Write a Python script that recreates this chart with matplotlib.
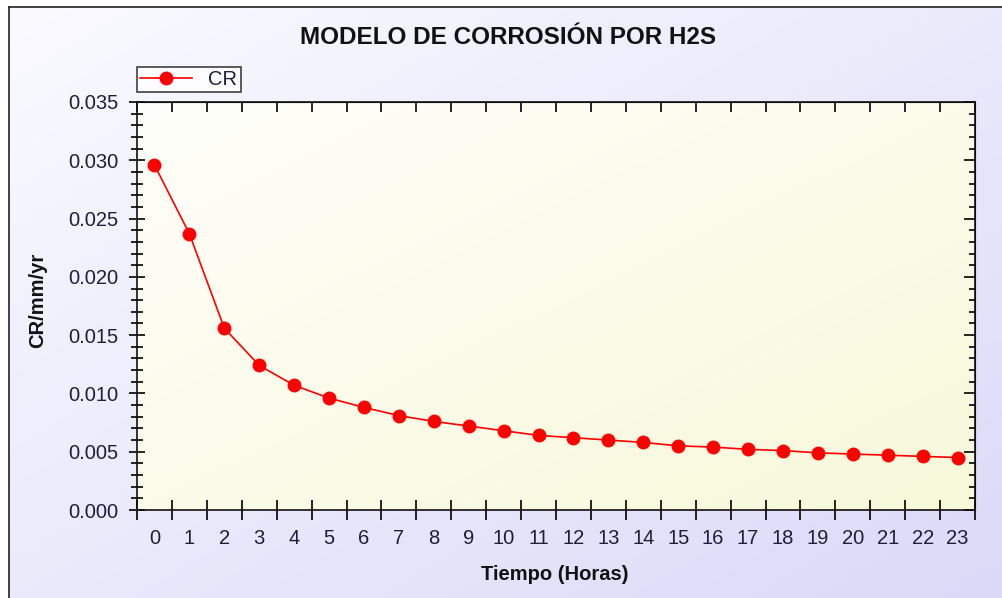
import numpy as np
import matplotlib.pyplot as plt
from matplotlib.lines import Line2D
from matplotlib.ticker import MultipleLocator, FixedLocator, NullFormatter

plt.rcParams['font.family'] = ['Liberation Sans', 'DejaVu Sans']

# Corrosion rate per hour
horas = list(range(24))
cr = [0.0296, 0.0237, 0.0156, 0.0124, 0.0107, 0.0096, 0.0088, 0.0081,
      0.0076, 0.0072, 0.0068, 0.0064, 0.0062, 0.0060, 0.0058, 0.0055,
      0.0054, 0.0052, 0.0051, 0.0049, 0.0048, 0.0047, 0.0046, 0.0045]

titulo = 'MODELO DE CORROSIÓN POR H2S'
xlabel = 'Tiempo (Horas)'
ylabel = 'CR/mm/yr'

W, H = 1002, 598
fig = plt.figure(figsize=(W / 100, H / 100), dpi=100, facecolor='white')


def gradiente(c0, c1, n=200):
    # diagonal blend: top-left c0 -> bottom-right c1
    xx, yy = np.meshgrid(np.linspace(0, 1, n), np.linspace(0, 1, n))
    t = (xx + yy) / 2
    c0 = np.array(c0) / 255.0
    c1 = np.array(c1) / 255.0
    return c0[None, None, :] * (1 - t[..., None]) + c1[None, None, :] * t[..., None]


# panel background with its frame lines
bg = fig.add_axes([9 / W, 0, 1 - 9 / W, (H - 7) / H], zorder=-2)
bg.imshow(gradiente((250, 250, 255), (218, 218, 248)), aspect='auto', extent=[0, 1, 0, 1])
bg.set_axis_off()
fig.add_artist(Line2D([9 / W, 9 / W], [0, (H - 7) / H], color='#222222', lw=1.2))
fig.add_artist(Line2D([9 / W, 1], [(H - 7) / H, (H - 7) / H], color='#222222', lw=1.2))

ax = fig.add_axes([137 / W, 88 / H, 838 / W, 408 / H])
ax.set_xlim(-0.5, 23.5)
ax.set_ylim(0, 0.035)
ax.imshow(gradiente((254, 254, 250), (248, 248, 218)), aspect='auto',
          extent=[-0.5, 23.5, 0, 0.035], zorder=0)
ax.set_facecolor('none')

ax.plot(horas, cr, color='#ff0000', lw=1.2, marker='o', ms=9,
        markeredgecolor='#ff0000', label='CR', zorder=3)

txt = '#1e1e3c'
# x: labels at the centres, ticks on the category boundaries
ax.xaxis.set_major_locator(FixedLocator(horas))
ax.set_xticklabels([str(h) for h in horas])
ax.xaxis.set_minor_locator(FixedLocator(np.arange(-0.5, 24, 1)))
ax.tick_params(axis='x', which='major', length=0, pad=14, labelsize=14.5, labelcolor=txt)
ax.tick_params(axis='x', which='minor', direction='inout', length=15, width=1.2)

ax.yaxis.set_major_locator(MultipleLocator(0.005))
ax.yaxis.set_minor_locator(MultipleLocator(0.001))
ax.yaxis.set_major_formatter(plt.FuncFormatter(lambda v, p: f'{v:.3f}'))
ax.tick_params(axis='y', which='major', direction='inout', length=11, width=1.2,
               pad=8, labelsize=14.5, labelcolor=txt)
ax.tick_params(axis='y', which='minor', direction='inout', length=8, width=1.2)

for s in ax.spines.values():
    s.set_linewidth(1.2)
    s.set_color('#111111')

# inward ticks on the top and right edges
top = ax.secondary_xaxis('top')
top.xaxis.set_major_locator(FixedLocator(np.arange(-0.5, 24, 1)))
top.xaxis.set_major_formatter(NullFormatter())
top.tick_params(direction='in', length=7, width=1.2)
right = ax.secondary_yaxis('right')
right.yaxis.set_major_locator(MultipleLocator(0.005))
right.yaxis.set_minor_locator(MultipleLocator(0.001))
right.yaxis.set_major_formatter(NullFormatter())
right.tick_params(which='major', direction='in', length=8, width=1.2)
right.tick_params(which='minor', direction='in', length=4, width=1.2)

fig.text(508 / W, 1 - 37 / H, titulo, ha='center', va='center',
         fontsize=17.5, fontweight='bold', color='#111111')
fig.text(555 / W, 1 - 574 / H, xlabel, ha='center', va='center',
         fontsize=14.5, fontweight='bold', color='#111111')
fig.text(38 / W, 1 - 300 / H, ylabel, ha='center', va='center', rotation=90,
         fontsize=14.5, fontweight='bold', color='#111111')

leg = ax.legend(loc='lower left', bbox_to_anchor=(0, 1.025), borderaxespad=0,
                fontsize=14.5, frameon=True, fancybox=False, handlelength=2.6,
                borderpad=0.15, handletextpad=0.8, labelcolor=txt)
leg.get_frame().set_edgecolor('#111111')
leg.get_frame().set_linewidth(1.2)
leg.get_frame().set_facecolor('white')

fig.savefig('out.png', dpi=100)
